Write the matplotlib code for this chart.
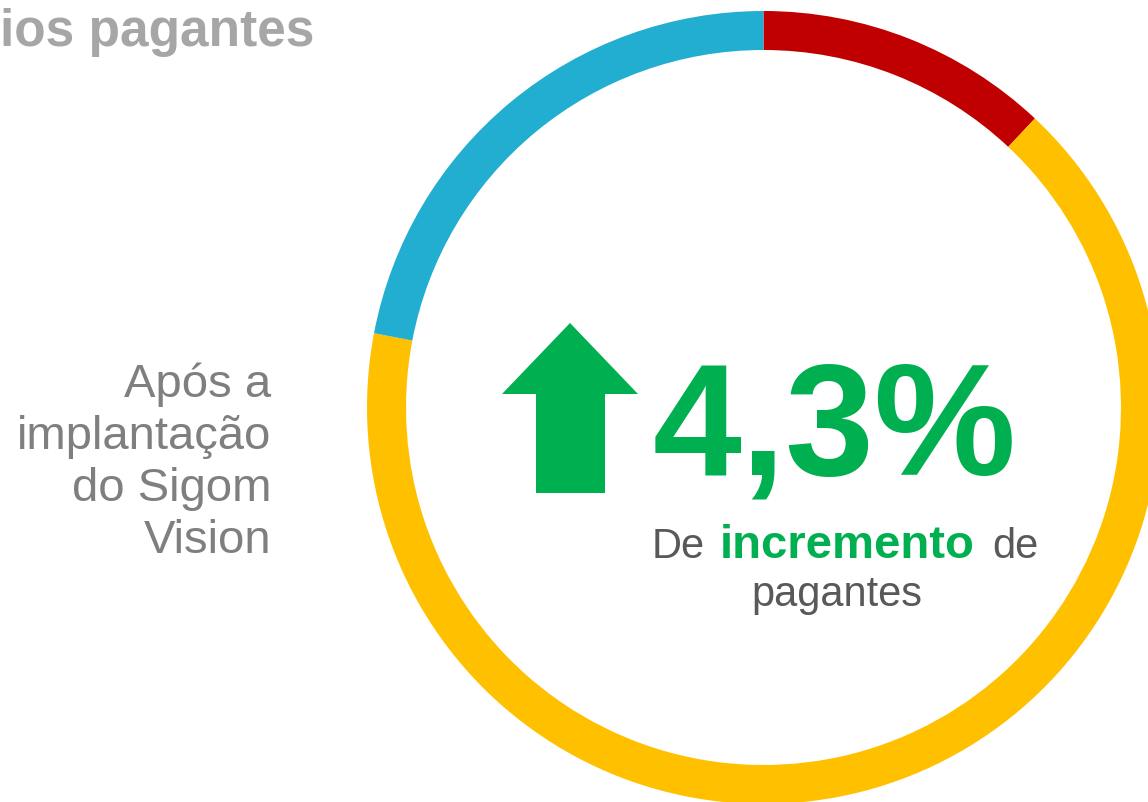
import matplotlib
matplotlib.use("Agg")
import matplotlib.pyplot as plt
from matplotlib.patches import Polygon

# ring shares (clockwise from 12 o'clock)
shares = [12.0, 66.0, 22.0]
ring_colors = ["#C00000", "#FFC000", "#21AED0"]

title_text = "ios pagantes"
side_lines = ["Após a", "implantação", "do Sigom", "Vision"]
big_value = "4,3%"
caption_parts = ["De", "incremento", "de"]
caption_line2 = "pagantes"

W, H = 1148, 803
GREEN = "#00B050"
GRAY = "#595959"
plt.rcParams['font.family'] = ['Liberation Sans', 'DejaVu Sans']

fig = plt.figure(figsize=(W / 100, H / 100), dpi=100)
ax = fig.add_axes([0, 0, 1, 1])

def Y(py):
    # pixel row from the top -> data y
    return H - py

# donut ring
ax.pie(shares, colors=ring_colors, startangle=90, counterclock=False,
       center=(763.5, Y(408.5)), radius=396.5, frame=True,
       wedgeprops=dict(width=39, linewidth=0))
ax.set_xlim(0, W)
ax.set_ylim(0, H)
ax.set_aspect('equal')
ax.axis('off')

# title (cut at left edge)
ax.text(314, Y(46), title_text, ha='right', va='baseline', fontsize=37,
        fontweight='bold', color='#A6A6A6')

# left text
for i, line in enumerate(side_lines):
    ax.text(271, Y(397 + i * 52), line, ha='right', va='baseline',
            fontsize=34, color='#7F7F7F')

# up arrow
arrow = Polygon([(502, Y(395)), (570, Y(324)), (638, Y(395)), (605, Y(395)),
                 (605, Y(494)), (536, Y(494)), (536, Y(395))],
                closed=True, facecolor=GREEN, edgecolor='none')
ax.add_patch(arrow)

# big number
ax.text(653, Y(475), big_value, ha='left', va='baseline', fontsize=115,
        fontweight='bold', color=GREEN)

# caption line 1 with mixed styles
ax.text(652, Y(558), caption_parts[0], ha='left', va='baseline',
        fontsize=30, color=GRAY)
ax.text(847, Y(558), caption_parts[1], ha='center', va='baseline',
        fontsize=34, fontweight='bold', color=GREEN)
ax.text(1038, Y(558), caption_parts[2], ha='right', va='baseline',
        fontsize=30, color=GRAY)

ax.text(837, Y(606), caption_line2, ha='center', va='baseline', fontsize=30,
        color=GRAY)

fig.savefig("out.png", dpi=100)
